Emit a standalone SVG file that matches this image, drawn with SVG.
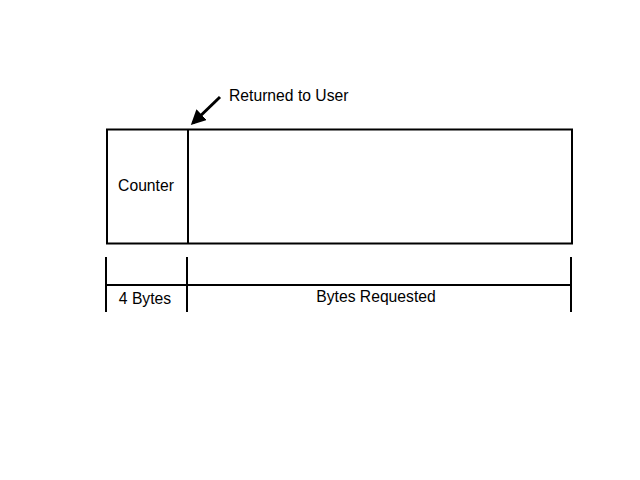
<svg xmlns="http://www.w3.org/2000/svg" width="640" height="480" viewBox="0 0 640 480">
<style>
.l{stroke:#000;stroke-width:2;fill:none}
.t{font-family:"Liberation Sans",Arial,sans-serif;font-size:15.7px;fill:#000}
</style>
<defs>
<marker id="ah" markerWidth="5" markerHeight="5" refX="4" refY="2.5" orient="auto" markerUnits="strokeWidth">
<path d="M0,0 L5,2.5 L0,5 Z" fill="#000"/>
</marker>
</defs>
<rect width="640" height="480" fill="#fff"/>
<g id="block">
<rect class="l" x="107" y="129.5" width="465" height="114"/>
<line class="l" x1="188" y1="129.5" x2="188" y2="243.5"/>
<text class="t" x="146" y="191" text-anchor="middle">Counter</text>
</g>
<g id="sizes">
<line class="l" x1="106" y1="257" x2="106" y2="312"/>
<line class="l" x1="187" y1="257" x2="187" y2="312"/>
<line class="l" x1="571" y1="257" x2="571" y2="312"/>
<line class="l" x1="106" y1="285" x2="571" y2="285"/>
<text class="t" x="145" y="304" text-anchor="middle">4 Bytes</text>
<text class="t" x="376" y="302" text-anchor="middle">Bytes Requested</text>
</g>
<g id="connectors">
<line x1="220" y1="97" x2="193" y2="123" stroke="#000" stroke-width="3" marker-end="url(#ah)"/>
</g>
<g id="label">
<text class="t" x="229" y="101">Returned to User</text>
</g>
</svg>
